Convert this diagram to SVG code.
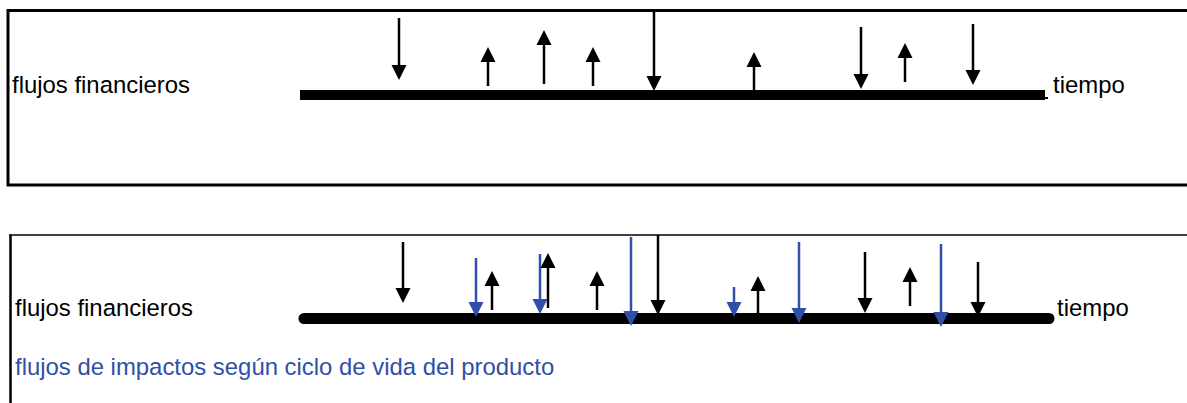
<svg xmlns="http://www.w3.org/2000/svg" width="1187" height="403" viewBox="0 0 1187 403">
<style>
  text { font-family: "Liberation Sans", Arial, sans-serif; font-size: 23.9px; fill: #000; }
  .blue-t { fill: #2F4FA8; }
  .frame { fill: none; stroke: #000; }
  .a { fill: none; stroke: #000; stroke-width: 2.5; marker-end: url(#hk); }
  .b { fill: none; stroke: #2F4FA8; stroke-width: 2.5; marker-end: url(#hb); }
</style>
<defs>
  <marker id="hk" markerUnits="userSpaceOnUse" markerWidth="16" markerHeight="16" viewBox="0 -8 16 16" refX="0" refY="0" orient="auto" overflow="visible">
    <path d="M0,-7.5 L15,0 L0,7.5 Z" fill="#000"/>
  </marker>
  <marker id="hb" markerUnits="userSpaceOnUse" markerWidth="16" markerHeight="16" viewBox="0 -8 16 16" refX="0" refY="0" orient="auto" overflow="visible">
    <path d="M0,-7.5 L15,0 L0,7.5 Z" fill="#2F4FA8"/>
  </marker>
</defs>
<rect fill="#fff" x="0" y="0" width="1187" height="403"/>

<g id="panel-top">
  <rect class="frame" x="8" y="10.5" width="1200" height="174.5" stroke-width="3"/>
  <text x="12" y="93">flujos financieros</text>
  <text x="1053" y="93">tiempo</text>
</g>
<g id="axis-top">
  <rect x="300" y="90" width="745" height="10" fill="#000"/>
  <rect x="1044" y="97" width="4" height="2" fill="#000"/>
</g>
<g id="connectors-top">
  <path class="a" d="M399,18 V65"/>
  <path class="a" d="M488,86 V62"/>
  <path class="a" d="M544,84 V45"/>
  <path class="a" d="M593,86 V62"/>
  <path class="a" d="M654,10 V76"/>
  <path class="a" d="M754,91 V67"/>
  <path class="a" d="M861,27 V74"/>
  <path class="a" d="M905,82 V58"/>
  <path class="a" d="M973,24 V70"/>
</g>

<g id="panel-bottom">
  <line x1="9" y1="235" x2="1200" y2="235" stroke="#000" stroke-width="1.5"/>
  <line x1="10.5" y1="234.5" x2="10.5" y2="410" stroke="#000" stroke-width="2.5"/>
  <text x="15" y="316">flujos financieros</text>
  <text x="1057" y="316">tiempo</text>
  <text class="blue-t" x="15" y="375">flujos de impactos según ciclo de vida del producto</text>
</g>
<g id="connectors-bottom">
  <path class="a" d="M978,262 V302"/>
  <line x1="304" y1="318.5" x2="1049" y2="318.5" stroke="#000" stroke-width="11" stroke-linecap="round"/>
  <path class="a" d="M403,242 V288"/>
  <path class="b" d="M476,258 V302"/>
  <path class="a" d="M492,310 V286"/>
  <path class="b" d="M540,254 V299"/>
  <path class="a" d="M548,308 V268"/>
  <path class="a" d="M597,310 V286"/>
  <path class="b" d="M631,237 V311"/>
  <path class="a" d="M658,235 V300"/>
  <path class="b" d="M734,287 V302"/>
  <path class="a" d="M758,313 V291"/>
  <path class="b" d="M799,242 V308"/>
  <path class="a" d="M865,252 V298"/>
  <path class="a" d="M910,306 V282"/>
  <path class="b" d="M941,244 V312"/>
</g>
</svg>
